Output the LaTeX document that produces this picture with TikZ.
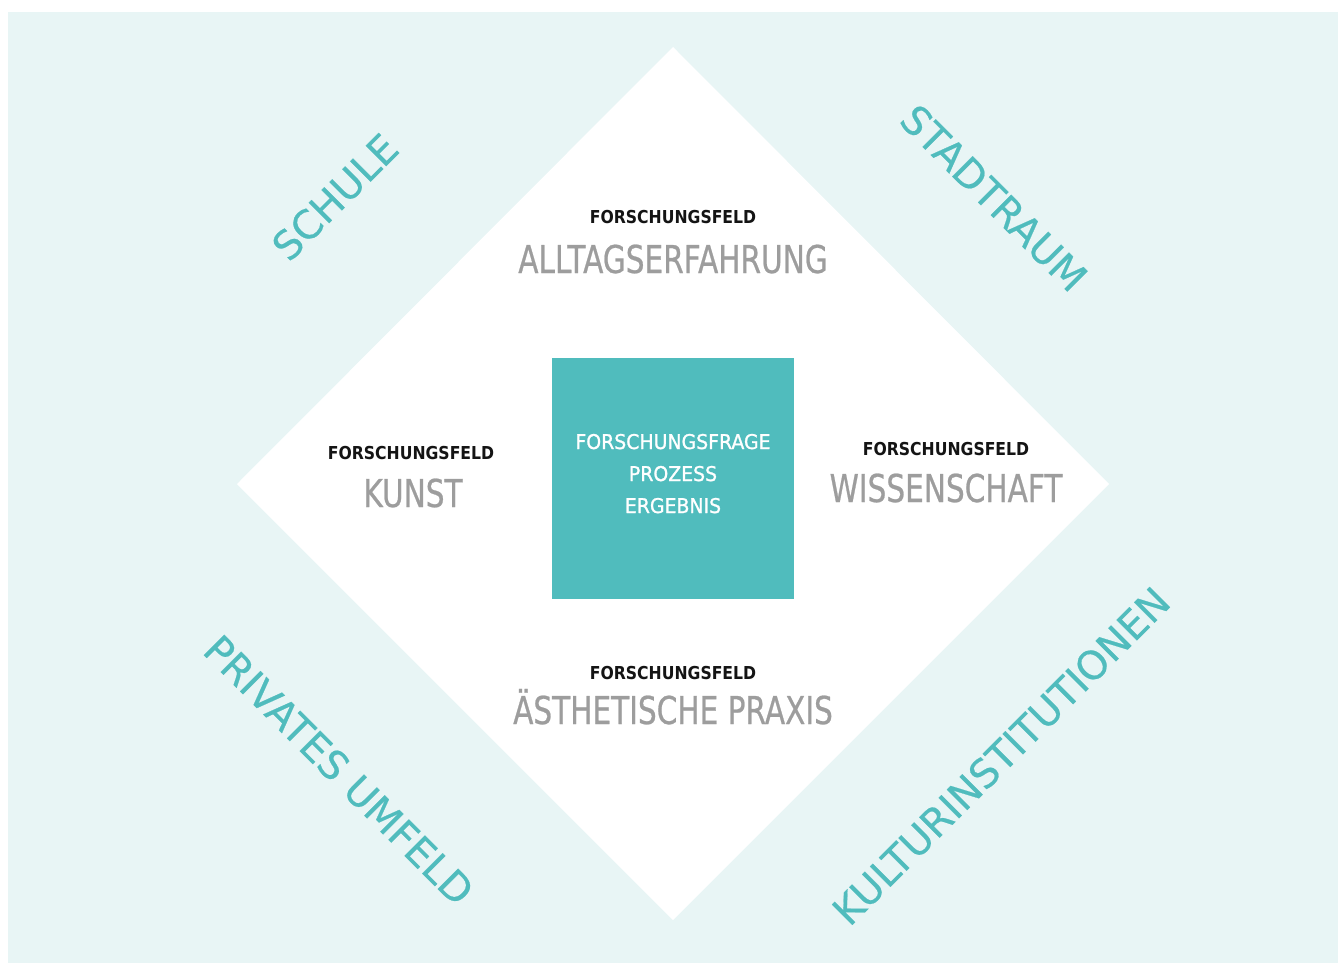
\documentclass[tikz,border=0pt]{standalone}
\usepackage{fontspec}
\setmainfont{DejaVu Sans}
\newfontfamily\fieldfont[FakeStretch=0.77, FakeBold=0.6]{DejaVu Sans}
\newfontfamily\tagfont[FakeStretch=0.88]{DejaVu Sans}
\newfontfamily\corefont[FakeStretch=0.93, FakeBold=1.2]{DejaVu Sans}
\newfontfamily\areafont[FakeBold=0.5]{DejaVu Sans}
\definecolor{paleteal}{RGB}{232,245,245}
\definecolor{teal}{RGB}{80,188,189}
\definecolor{fieldgray}{RGB}{157,157,157}
\definecolor{tagblack}{RGB}{20,20,20}
\tikzset{
  tag/.style={anchor=base, inner sep=0pt, text=tagblack, font=\tagfont\bfseries\fontsize{17.8}{20}\selectfont},
  field/.style={anchor=base, inner sep=0pt, text=fieldgray, font=\fieldfont\fontsize{38.4}{40}\selectfont},
  core/.style={anchor=base, inner sep=0pt, text=white, font=\corefont\fontsize{20.3}{22}\selectfont},
  area/.style={inner sep=0pt, text=teal, font=\areafont\fontsize{39.5}{41}\selectfont},
}
\begin{document}
\begin{tikzpicture}[x=1pt, y=-1pt]
\useasboundingbox (0,0) rectangle (1338,963);
% backdrop
\fill[paleteal] (8,12) rectangle (1338,963);
% white field diamond
\fill[white] (673,47) -- (1109,484) -- (673,920) -- (237,484) -- cycle;
% central square
\fill[teal] (552,358) rectangle (794,599);
\node[core] (q1) at (673,449) {FORSCHUNGSFRAGE};
\node[core] (q2) at (673,481) {PROZESS};
\node[core] (q3) at (673,513) {ERGEBNIS};
% research fields
\node[tag] (t1) at (673,223) {FORSCHUNGSFELD};
\node[field] (f1) at (673,273) {ALLTAGSERFAHRUNG};
\node[tag] (t2) at (411,459) {FORSCHUNGSFELD};
\node[field] (f2) at (413,507) {KUNST};
\node[tag] (t3) at (946,455) {FORSCHUNGSFELD};
\node[field] (f3) at (946,502) {WISSENSCHAFT};
\node[tag] (t4) at (673,679) {FORSCHUNGSFELD};
\node[field] (f4) at (673,724) {ÄSTHETISCHE PRAXIS};
% surrounding places
\node[area, rotate=45] (a1) at (335,197) {SCHULE};
\node[area, rotate=-45] (a2) at (994,198) {STADTRAUM};
\node[area, rotate=-45] (a3) at (339,770) {PRIVATES UMFELD};
\node[area, rotate=45] (a4) at (1001,756) {KULTURINSTITUTIONEN};
\end{tikzpicture}
\end{document}
